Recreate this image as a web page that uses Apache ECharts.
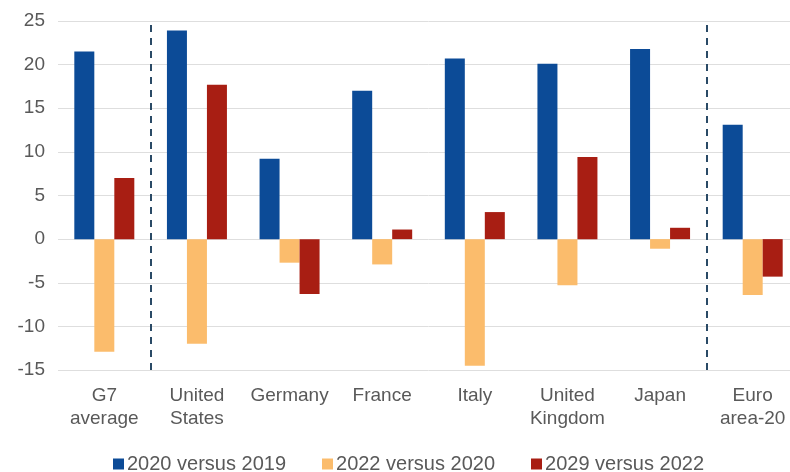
<!DOCTYPE html>
<html>
<head>
<meta charset="utf-8">
<script src="https://cdn.jsdelivr.net/npm/echarts@6/dist/echarts.min.js"></script>
<style>
  html, body { margin: 0; padding: 0; background: #fff; overflow: hidden; }
  #chart { width: 800px; height: 472px; }
</style>
</head>
<body>
<div id="chart"></div>
<script>
// categories and values (percent change)
const categories = ['G7\naverage', 'United\nStates', 'Germany', 'France', 'Italy', 'United\nKingdom', 'Japan', 'Euro\narea-20'];
const v2020vs2019 = [21.5, 23.9, 9.2, 17.0, 20.7, 20.1, 21.8, 13.1];
const v2022vs2020 = [-12.9, -12.0, -2.7, -2.9, -14.5, -5.3, -1.1, -6.4];
const v2029vs2022 = [7.0, 17.7, -6.3, 1.1, 3.1, 9.4, 1.3, -4.3];
const yTicks = { min: -15, max: 25, step: 5 };
// dashed separators, in category-boundary units (0 = left edge of plot)
const separators = [1, 7];

const chart = echarts.init(document.getElementById('chart'));
const grey = '#595959';
const font = 'Liberation Sans, Arial, sans-serif';

const option = {
  animation: false,
  grid: {
    left: 58,
    top: 21,
    width: 741,
    height: 349
  },
  legend: {
    top: 449,
    left: 108,
    itemWidth: 11,
    itemHeight: 11,
    itemGap: 36,
    icon: 'rect',
    data: ['2020 versus 2019', '2022 versus 2020', '2029 versus 2022'],
    textStyle: { color: grey, fontSize: 20, fontFamily: font, padding: [0, 0, 0, -2] }
  },
  xAxis: [
    {
      type: 'category',
      data: categories,
      boundaryGap: true,
      axisTick: { show: false },
      axisLine: { show: false },
      axisLabel: {
        color: grey,
        fontSize: 19,
        fontFamily: font,
        lineHeight: 23,
        margin: 14,
        interval: 0
      }
    },
    {
      type: 'value',
      min: 0,
      max: categories.length,
      show: false
    }
  ],
  yAxis: {
    type: 'value',
    min: yTicks.min,
    max: yTicks.max,
    interval: yTicks.step,
    axisLine: { show: false },
    axisTick: { show: false },
    axisLabel: { color: grey, fontSize: 19, fontFamily: font, margin: 13 },
    splitLine: { lineStyle: { color: '#dedede', width: 1 } }
  },
  series: [
    {
      name: '2020 versus 2019',
      type: 'bar',
      data: v2020vs2019,
      barWidth: 20,
      barGap: '0%',
      itemStyle: { color: '#0c4b97' }
    },
    {
      name: '2022 versus 2020',
      type: 'bar',
      data: v2022vs2020,
      barWidth: 20,
      barGap: '0%',
      itemStyle: { color: '#fbbc6c' }
    },
    {
      name: '2029 versus 2022',
      type: 'bar',
      data: v2029vs2022,
      barWidth: 20,
      barGap: '0%',
      itemStyle: { color: '#a81e13' }
    },
    {
      // separators only
      name: 'separators',
      type: 'line',
      xAxisIndex: 1,
      data: [],
      silent: true,
      markLine: {
        symbol: 'none',
        silent: true,
        label: { show: false },
        lineStyle: { color: '#2a4a66', width: 2, type: [7, 6] },
        data: separators.map(function (x) { return { xAxis: x }; })
      }
    }
  ]
};
chart.setOption(option);
</script>
</body>
</html>
